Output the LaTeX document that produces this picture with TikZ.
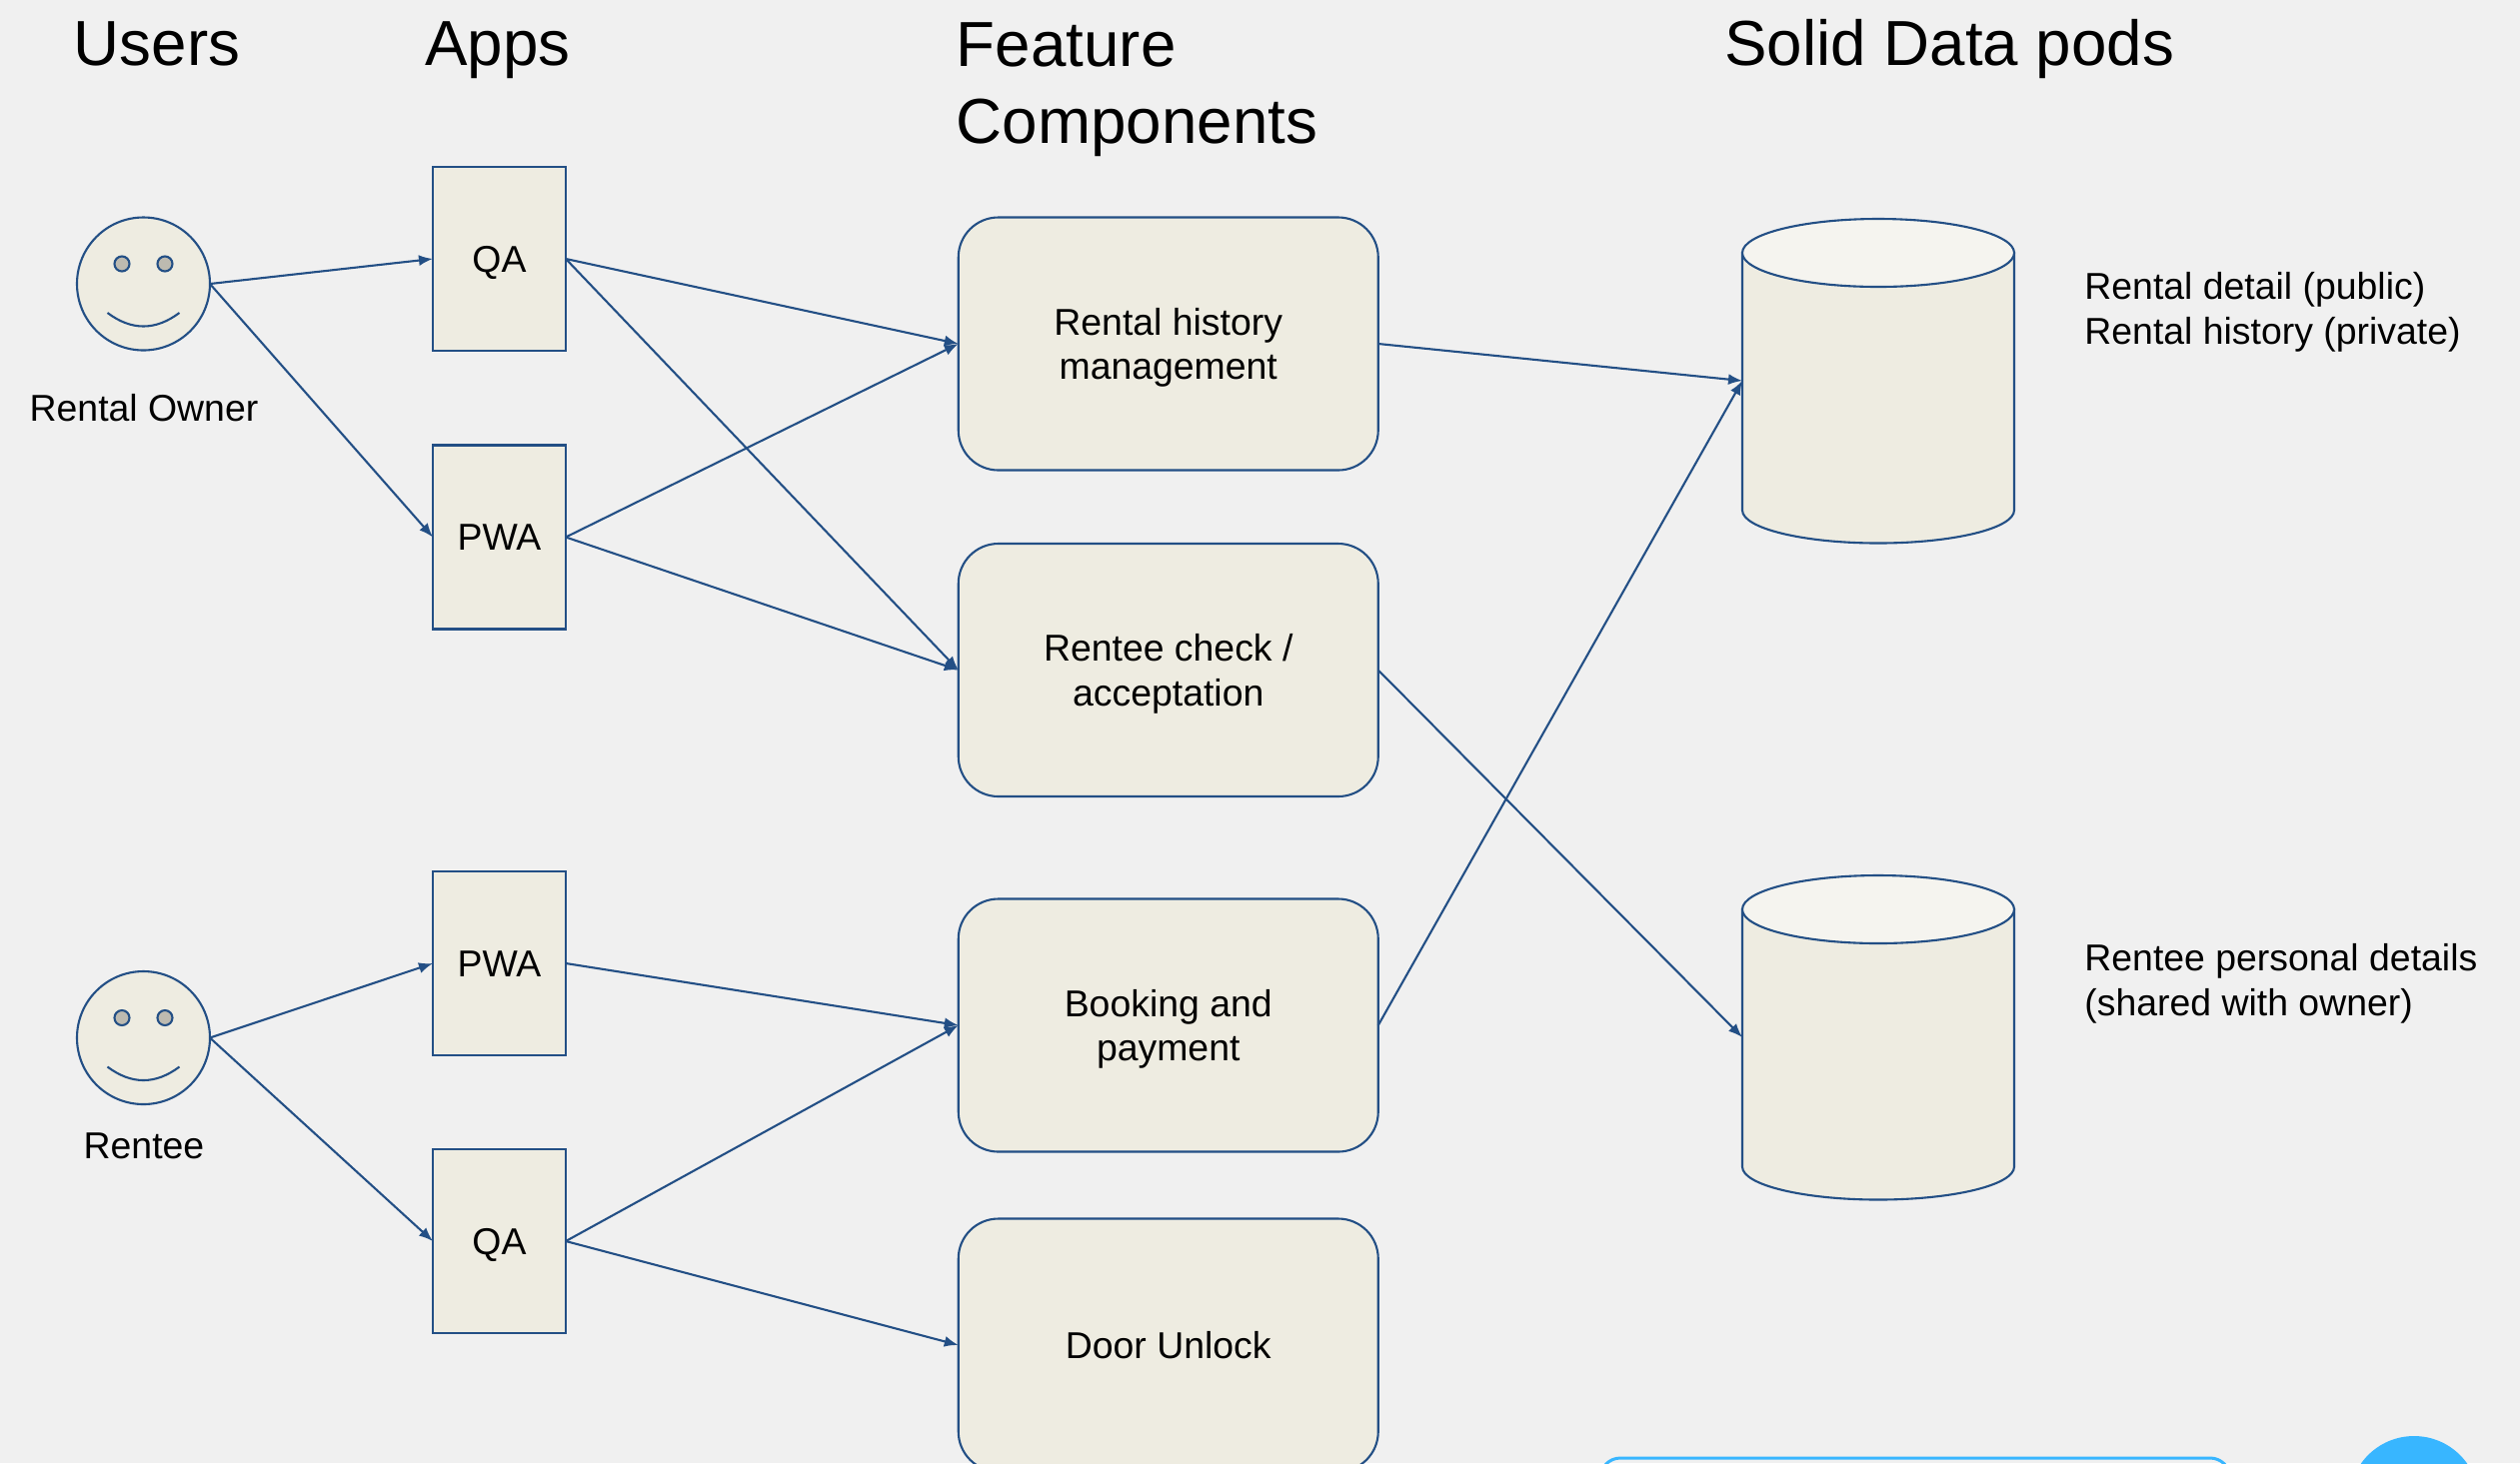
\documentclass[tikz,border=0pt]{standalone}
\usepackage{fontspec}
\setmainfont{Liberation Sans}
\usetikzlibrary{arrows.meta}
\definecolor{bgc}{HTML}{F0F0F0}
\definecolor{fillc}{HTML}{EEECE1}
\definecolor{linec}{HTML}{234F85}
\definecolor{topc}{HTML}{F5F4EF}
\definecolor{eyec}{HTML}{BDBAB0}
\definecolor{bluec}{HTML}{38B6FF}
\tikzset{
  px/.style={x=0.5pt,y=-0.5pt},
  outline/.style={draw=linec,line width=1.05pt},
  appbox/.style={outline,fill=fillc,rectangle,inner sep=0pt,outer sep=0pt,minimum width=66.5pt,minimum height=92pt,text height=13.3pt,text depth=0pt,font=\fontsize{18.7pt}{22pt}\selectfont},
  featbox/.style={outline,fill=fillc,rectangle,rounded corners=20pt,inner sep=0pt,outer sep=0pt,minimum width=210pt,minimum height=126.5pt,align=center,text depth=-0.7pt,font=\fontsize{18.7pt}{22.2pt}\selectfont},
  facenode/.style={outline,fill=fillc,circle,inner sep=0pt,outer sep=0pt,minimum size=66.5pt},
  eye/.style={outline,fill=eyec},
  podanchor/.style={rectangle,inner sep=0pt,outer sep=0pt,minimum width=136pt,minimum height=162pt},
  heading/.style={anchor=base west,inner sep=0pt,align=left,font=\fontsize{31.85pt}{38.5pt}\selectfont},
  note/.style={anchor=base west,inner sep=0pt,align=left,font=\fontsize{18.7pt}{22.5pt}\selectfont},
  caption/.style={anchor=base,inner sep=0pt,font=\fontsize{18.7pt}{22pt}\selectfont},
  conn/.style={draw=linec,line width=1.05pt,-{Latex[length=7pt,width=5.5pt]}},
}
\newcommand{\smileyface}[3]{% name, x, y (centre)
  \node[facenode] (#1) at (#2,#3) {};
  \draw[eye] (#2-21.5,#3-20) ellipse[x radius=7.5,y radius=7.5];
  \draw[eye] (#2+21.5,#3-20) ellipse[x radius=7.5,y radius=7.5];
  \draw[outline] (#2-36,#3+29) .. controls (#2-12,#3+47) and (#2+12,#3+47) .. (#2+36,#3+29);
}
\newcommand{\podshape}[3]{% name, x, y (centre)
  \node[podanchor] (#1) at (#2,#3) {};
  \draw[outline,fill=fillc] (#1.north west) ++(0,34) -- ++(0,257.5)
     arc[start angle=180,end angle=0,x radius=136,y radius=33] -- ++(0,-257.5) -- cycle;
  \draw[outline,fill=topc] (#2,#3-128) ellipse[x radius=136,y radius=34];
}
\begin{document}
\begin{tikzpicture}[px]
\useasboundingbox (0,0) rectangle (2521,1464);
\clip (0,0) rectangle (2521,1464);
\fill[bgc] (0,0) rectangle (2521,1464);

\node[heading] (hUsers) at (73.5,65) {Users};
\node[heading] (hApps) at (425,65) {Apps};
\node[heading] (hFeat) at (956.5,143) {Feature\\Components};
\node[heading] (hPods) at (1725,65) {Solid Data pods};

\smileyface{owner}{143.5}{284}
\smileyface{rentee}{143.5}{1038.5}
\node[caption] (lOwner) at (144,421) {Rental Owner};
\node[caption] (lRentee) at (144,1159) {Rentee};

\node[appbox] (qa1) at (499.5,259) {QA};
\node[appbox] (pwa1) at (499.5,537.5) {PWA};
\node[appbox] (pwa2) at (499.5,964) {PWA};
\node[appbox] (qa2) at (499.5,1242) {QA};

\node[featbox] (history) at (1168.75,344) {Rental history\\management};
\node[featbox] (check) at (1168.75,670.5) {Rentee check /\\acceptation};
\node[featbox] (booking) at (1168.75,1026) {Booking and\\payment};
\node[featbox] (door) at (1168.75,1346) {Door Unlock};

\podshape{podA}{1879}{381}
\podshape{podB}{1879}{1038}

\node[note] (nA) at (2085,344) {Rental detail (public)\\Rental history (private)};
\node[note] (nB) at (2085,1016.5) {Rentee personal details\\(shared with owner)};

\draw[conn] (owner.east) -- (qa1.west);
\draw[conn] (owner.east) -- (pwa1.west);
\draw[conn] (rentee.east) -- (pwa2.west);
\draw[conn] (rentee.east) -- (qa2.west);
\draw[conn] (qa1.east) -- (history.west);
\draw[conn] (qa1.east) -- (check.west);
\draw[conn] (pwa1.east) -- (history.west);
\draw[conn] (pwa1.east) -- (check.west);
\draw[conn] (pwa2.east) -- (booking.west);
\draw[conn] (qa2.east) -- (booking.west);
\draw[conn] (qa2.east) -- (door.west);
\draw[conn] (history.east) -- (podA.west);
\draw[conn] (booking.east) -- (podA.west);
\draw[conn] (check.east) -- (podB.west);

\draw[draw=bluec,line width=1.5pt,rounded corners=10pt] (1601,1459) rectangle (2231,1560);
\fill[bluec] (2415,1502) circle[radius=65];
\end{tikzpicture}
\end{document}
